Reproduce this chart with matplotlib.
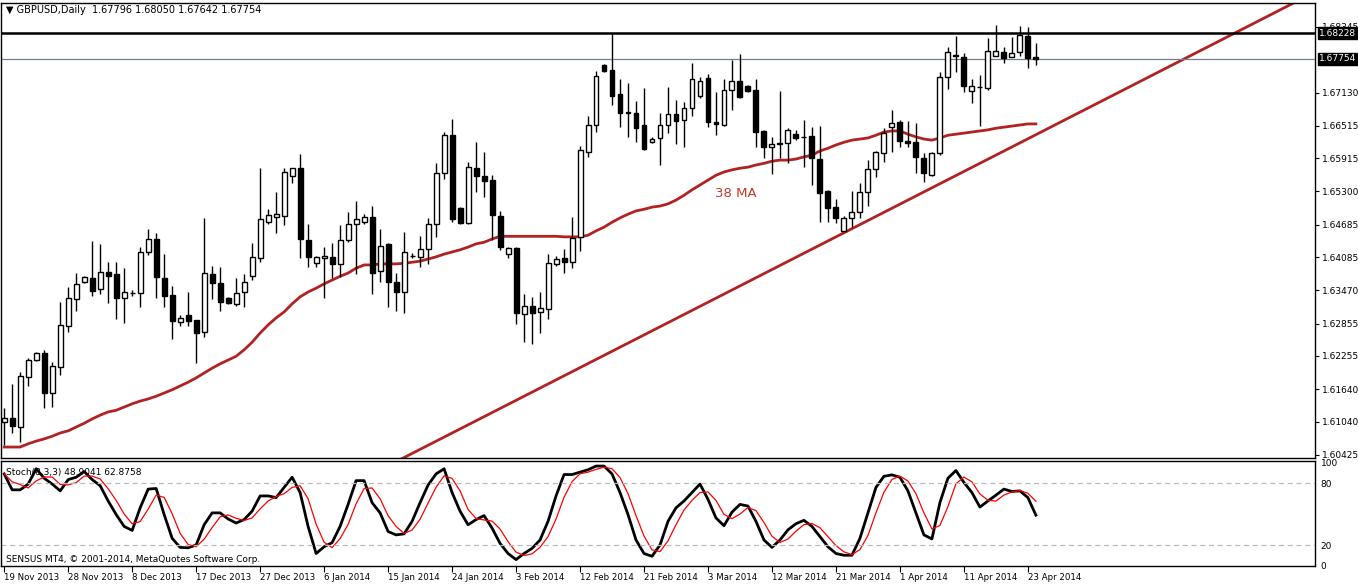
import matplotlib
matplotlib.use("Agg")
import matplotlib.pyplot as plt
import numpy as np
import pandas as pd

OPEN = [1.6103,1.6111,1.6094,1.6187,1.6218,1.6231,1.6157,1.6205,1.6281,1.6331,
1.6362,1.6370,1.6349,1.6381,1.6377,1.6333,1.6342,1.6342,1.6418,1.6442,
1.6370,1.6338,1.6288,1.6301,1.6292,1.6270,1.6377,1.6360,1.6333,1.6322,
1.6344,1.6373,1.6407,1.6473,1.6483,1.6484,1.6558,1.6573,1.6440,1.6397,
1.6407,1.6409,1.6396,1.6440,1.6470,1.6473,1.6483,1.6383,1.6433,1.6362,
1.6344,1.6410,1.6409,1.6423,1.6470,1.6564,1.6634,1.6499,1.6471,1.6573,
1.6558,1.6551,1.6484,1.6414,1.6425,1.6303,1.6318,1.6307,1.6312,1.6396,
1.6407,1.6399,1.6446,1.6603,1.6653,1.6764,1.6755,1.6710,1.6677,1.6675,
1.6653,1.6621,1.6629,1.6653,1.6673,1.6662,1.6684,1.6706,1.6740,1.6658,
1.6653,1.6718,1.6734,1.6725,1.6718,1.6642,1.6612,1.6620,1.6620,1.6636,
1.6631,1.6633,1.6590,1.6531,1.6501,1.6457,1.6481,1.6492,1.6529,1.6571,
1.6601,1.6649,1.6658,1.6623,1.6621,1.6592,1.6560,1.6601,1.6742,1.6782,
1.6779,1.6716,1.6723,1.6721,1.6780,1.6788,1.6779,1.6788,1.6817,1.67796]
HIGH = [1.6129,1.6174,1.6196,1.6222,1.6233,1.6237,1.6214,1.6325,1.6353,1.6379,
1.6373,1.6438,1.6433,1.6399,1.6399,1.6388,1.6348,1.6427,1.6460,1.6453,
1.6414,1.6355,1.6301,1.6344,1.6292,1.6481,1.6392,1.6390,1.6335,1.6370,
1.6377,1.6434,1.6573,1.6497,1.6529,1.6573,1.6574,1.6599,1.6470,1.6410,
1.6427,1.6434,1.6468,1.6492,1.6512,1.6488,1.6503,1.6460,1.6434,1.6379,
1.6455,1.6416,1.6447,1.6481,1.6582,1.6640,1.6664,1.6501,1.6584,1.6621,
1.6603,1.6560,1.6494,1.6427,1.6427,1.6340,1.6335,1.6344,1.6414,1.6410,
1.6423,1.6483,1.6614,1.6669,1.6753,1.6766,1.6823,1.6738,1.6730,1.6697,
1.6721,1.6631,1.6675,1.6723,1.6699,1.6695,1.6767,1.6742,1.6747,1.6714,
1.6738,1.6773,1.6784,1.6727,1.6738,1.6644,1.6631,1.6716,1.6647,1.6644,
1.6662,1.6649,1.6651,1.6533,1.6516,1.6484,1.6531,1.6545,1.6588,1.6604,
1.6647,1.6681,1.6662,1.6660,1.6656,1.6601,1.6603,1.6751,1.6797,1.6817,
1.6786,1.6738,1.6745,1.6814,1.6838,1.6797,1.6816,1.6836,1.6834,1.68050]
LOW = [1.6061,1.6083,1.6066,1.6170,1.6216,1.6129,1.6131,1.6190,1.6270,1.6309,
1.6360,1.6336,1.6340,1.6323,1.6294,1.6287,1.6337,1.6316,1.6412,1.6333,
1.6316,1.6257,1.6281,1.6281,1.6212,1.6261,1.6331,1.6309,1.6322,1.6318,
1.6316,1.6366,1.6399,1.6470,1.6453,1.6468,1.6545,1.6407,1.6390,1.6390,
1.6333,1.6370,1.6372,1.6436,1.6377,1.6470,1.6340,1.6362,1.6316,1.6309,
1.6305,1.6407,1.6390,1.6396,1.6446,1.6553,1.6473,1.6470,1.6470,1.6529,
1.6520,1.6440,1.6422,1.6407,1.6285,1.6251,1.6248,1.6268,1.6294,1.6392,
1.6379,1.6388,1.6420,1.6594,1.6640,1.6751,1.6690,1.6649,1.6631,1.6621,
1.6607,1.6620,1.6579,1.6638,1.6618,1.6612,1.6669,1.6703,1.6649,1.6634,
1.6651,1.6681,1.6703,1.6714,1.6612,1.6592,1.6562,1.6592,1.6583,1.6625,
1.6575,1.6542,1.6473,1.6473,1.6471,1.6457,1.6464,1.6481,1.6503,1.6557,
1.6584,1.6603,1.6612,1.6612,1.6564,1.6547,1.6558,1.6597,1.6720,1.6751,
1.6714,1.6693,1.6651,1.6718,1.6780,1.6768,1.6779,1.6780,1.6758,1.67642]
CLOSE = [1.6111,1.6096,1.6188,1.6218,1.6231,1.6157,1.6207,1.6283,1.6333,1.6359,
1.6372,1.6346,1.6381,1.6373,1.6333,1.6344,1.6343,1.6418,1.6442,1.6372,
1.6336,1.6290,1.6296,1.6290,1.6268,1.6379,1.6360,1.6325,1.6323,1.6342,
1.6362,1.6409,1.6479,1.6486,1.6488,1.6566,1.6573,1.6442,1.6409,1.6409,
1.6410,1.6396,1.6440,1.6470,1.6479,1.6483,1.6379,1.6429,1.6362,1.6344,
1.6418,1.6411,1.6423,1.6470,1.6564,1.6634,1.6479,1.6471,1.6575,1.6558,
1.6549,1.6486,1.6427,1.6425,1.6305,1.6318,1.6305,1.6314,1.6397,1.6405,
1.6399,1.6444,1.6607,1.6653,1.6743,1.6753,1.6706,1.6675,1.6675,1.6647,
1.6608,1.6627,1.6653,1.6673,1.6660,1.6684,1.6738,1.6734,1.6658,1.6655,
1.6718,1.6734,1.6705,1.6716,1.6640,1.6612,1.6618,1.6618,1.6644,1.6629,
1.6630,1.6592,1.6527,1.6499,1.6481,1.6481,1.6492,1.6529,1.6571,1.6603,
1.6638,1.6656,1.6623,1.6620,1.6594,1.6564,1.6601,1.6742,1.6788,1.6780,
1.6725,1.6725,1.6724,1.6790,1.6790,1.6777,1.6786,1.6819,1.6777,1.67754]
MA38 = [1.6057,1.6057,1.6057,1.6063,1.6068,1.6072,1.6077,1.6083,1.6087,1.6094,
1.6101,1.6109,1.6116,1.6122,1.6125,1.6131,1.6137,1.6142,1.6146,1.6151,
1.6157,1.6163,1.6170,1.6177,1.6185,1.6194,1.6203,1.6211,1.6218,1.6225,
1.6237,1.6251,1.6268,1.6283,1.6296,1.6307,1.6322,1.6335,1.6344,1.6351,
1.6359,1.6366,1.6373,1.6379,1.6388,1.6394,1.6394,1.6396,1.6396,1.6396,
1.6397,1.6399,1.6401,1.6405,1.6409,1.6414,1.6418,1.6422,1.6427,1.6433,
1.6436,1.6442,1.6447,1.6447,1.6447,1.6447,1.6447,1.6447,1.6447,1.6447,
1.6446,1.6446,1.6446,1.6449,1.6457,1.6464,1.6473,1.6481,1.6488,1.6494,
1.6497,1.6501,1.6503,1.6507,1.6514,1.6523,1.6533,1.6542,1.6551,1.6560,
1.6566,1.6570,1.6573,1.6575,1.6579,1.6582,1.6586,1.6588,1.6588,1.6590,
1.6594,1.6597,1.6605,1.6610,1.6616,1.6621,1.6625,1.6627,1.6629,1.6634,
1.6640,1.6642,1.6642,1.6636,1.6631,1.6627,1.6625,1.6629,1.6634,1.6636,
1.6638,1.6640,1.6642,1.6644,1.6647,1.6649,1.6651,1.6653,1.6655,1.6655]
STOCH_K = [88.8,73.4,73.4,79.0,93.8,84.6,79.0,72.4,83.3,85.6,
91.1,83.3,77.4,62.6,49.5,38.0,34.1,56.0,74.1,74.7,
49.5,26.5,17.7,17.3,20.0,39.6,51.1,51.1,45.2,41.3,
44.6,52.8,67.5,67.5,65.9,75.7,85.6,70.8,38.0,11.8,
18.3,22.3,38.0,59.3,82.3,82.3,61.0,51.1,33.1,29.8,
30.8,42.9,61.0,78.0,88.8,93.8,70.8,52.8,39.6,44.6,
48.5,36.4,21.6,11.8,5.9,11.8,16.7,24.9,42.9,67.5,
88.2,88.2,90.5,92.8,96.4,96.4,88.8,70.8,49.5,24.9,
11.8,9.1,20.0,42.9,56.0,62.6,70.8,79.0,64.2,46.2,
38.7,51.8,59.3,57.7,42.9,24.9,17.7,24.9,34.7,40.6,
43.9,38.0,28.2,18.3,11.8,10.1,10.1,26.5,51.1,75.7,
86.5,87.9,85.6,72.4,51.1,29.8,25.9,61.0,84.6,92.1,
80.6,70.8,56.7,62.6,68.2,74.1,71.8,72.4,65.9,48.9]
TREND_X = [49.4, 161.25]
TREND_Y = [1.6033, 1.6879]
PRICE_TICKS = [1.68345,1.67130,1.66515,1.65915,1.65300,1.64685,1.64085,
               1.63470,1.62855,1.62255,1.61640,1.61040,1.60425]
RESIST = 1.68228
LAST = 1.67754
DATE_POS = [0,8,16,24,32,40,48,56,64,72,80,88,96,104,112,120,128]
DATE_LBL = ["19 Nov 2013","28 Nov 2013","8 Dec 2013","17 Dec 2013","27 Dec 2013",
            "6 Jan 2014","15 Jan 2014","24 Jan 2014","3 Feb 2014","12 Feb 2014",
            "21 Feb 2014","3 Mar 2014","12 Mar 2014","21 Mar 2014","1 Apr 2014",
            "11 Apr 2014","23 Apr 2014"]

RED = "#B22222"
fig = plt.figure(figsize=(13.58, 5.84), dpi=100)
W, H = 1358, 584
def rect(x0, y0, x1, y1):
    return [x0 / W, 1 - y1 / H, (x1 - x0) / W, (y1 - y0) / H]

ax = fig.add_axes(rect(1, 3, 1315, 458))
sx = fig.add_axes(rect(1, 461, 1315, 566))
XL = (-0.4, 163.9)

o, h, l, c = map(np.array, (OPEN, HIGH, LOW, CLOSE))
idx = np.arange(len(o))
ax.vlines(idx, l, h, color="black", lw=1, zorder=2)
up = c >= o
body = np.maximum(np.abs(c - o), 0.00004)
bot = np.minimum(o, c)
ax.bar(idx[up], body[up], bottom=bot[up], width=0.62, facecolor="white",
       edgecolor="black", lw=1, zorder=3)
ax.bar(idx[~up], body[~up], bottom=bot[~up], width=0.62, facecolor="black",
       edgecolor="black", lw=1, zorder=3)
ax.plot(idx, MA38, color=RED, lw=2, zorder=1)
ax.plot(TREND_X, TREND_Y, color=RED, lw=2, zorder=1)
ax.axhline(RESIST, color="black", lw=1.8, zorder=1)
ax.axhline(LAST, color="#708090", lw=0.9, zorder=1)
ax.text(91.5, 1.6527, "38 MA", color="#C0392B", fontsize=9.5, ha="center", va="center")
ax.text(0.004, 0.995, "\u25BC GBPUSD,Daily  1.67796 1.68050 1.67642 1.67754",
        transform=ax.transAxes, fontsize=7, va="top", ha="left")
ax.set_xlim(*XL)
ax.set_ylim(1.60367, 1.68788)
ax.set_xticks([])
ax.yaxis.tick_right()
ax.set_yticks(PRICE_TICKS)
ax.set_yticklabels([f"{v:.5f}" for v in PRICE_TICKS], fontsize=6.5)
ax.tick_params(axis="y", length=3, pad=2)
for val in (RESIST, LAST):
    ax.annotate(f"{val:.5f}", xy=(1.0, val), xycoords=("axes fraction", "data"),
                xytext=(3, 0), textcoords="offset points", fontsize=6.5, color="white",
                va="center", ha="left", zorder=10,
                bbox=dict(boxstyle="square,pad=0.15", fc="black", ec="black"))

k = pd.Series(STOCH_K)
d = k.rolling(3, min_periods=1).mean()
sx.plot(idx, k, color="black", lw=2)
sx.plot(idx, d, color="red", lw=0.9)
for lv in (80, 20):
    sx.axhline(lv, color="#bbbbbb", lw=0.9, ls=(0, (4, 3)))
sx.set_xlim(*XL)
sx.set_ylim(-0.3, 101.3)
sx.yaxis.tick_right()
sx.set_yticks([100, 80, 20, 0])
sx.set_yticklabels(["100", "80", "20", "0"], fontsize=6.5)
sx.tick_params(axis="y", length=0, pad=4)
sx.text(0.004, 0.93, "Stoch(8,3,3) 48.9041 62.8758", transform=sx.transAxes,
        fontsize=6.5, va="top")
sx.text(0.004, 0.02, "SENSUS MT4, \u00a9 2001-2014, MetaQuotes Software Corp.",
        transform=sx.transAxes, fontsize=6.5, va="bottom")
sx.set_xticks(DATE_POS)
sx.set_xticklabels(DATE_LBL, fontsize=6.2, ha="left")
sx.tick_params(axis="x", length=4, pad=1, direction="out")
for a in (ax, sx):
    for s in a.spines.values():
        s.set_linewidth(1)
fig.savefig("out.png", dpi=100)
